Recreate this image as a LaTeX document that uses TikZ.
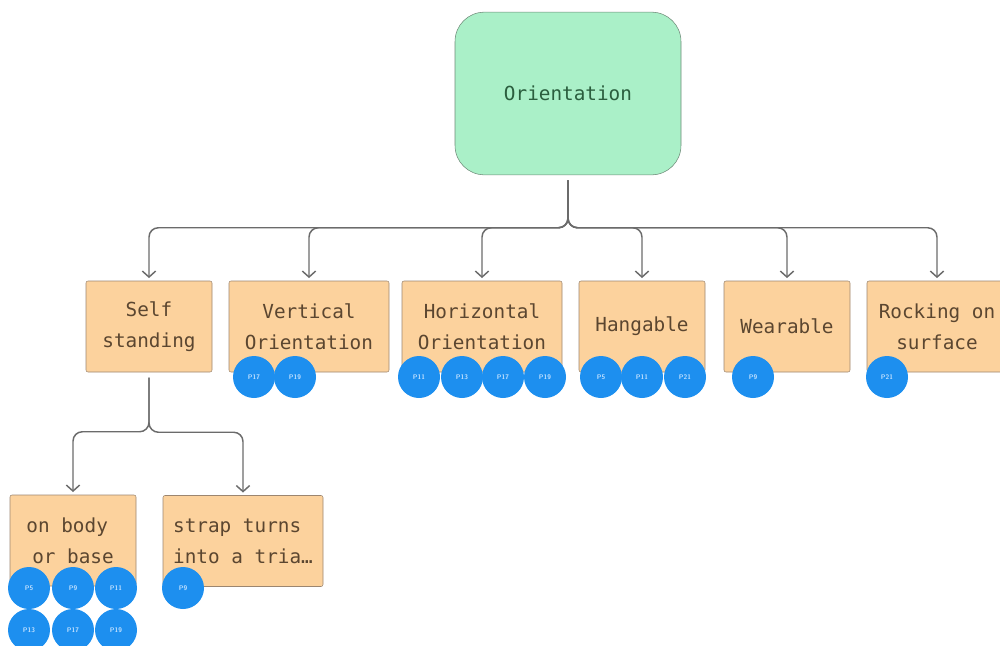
\documentclass[tikz,border=0pt]{standalone}
\usepackage{fontspec}
\setmonofont{DejaVu Sans Mono}
\usetikzlibrary{arrows.meta,calc}

\definecolor{rootfill}{HTML}{AAF0C8}
\definecolor{rootline}{HTML}{6E8A78}
\definecolor{roottext}{HTML}{2B5E3E}
\definecolor{leaffill}{HTML}{FCD29D}
\definecolor{leafline}{HTML}{9C8670}
\definecolor{leaftext}{HTML}{5B4630}
\definecolor{linkgray}{HTML}{6B6B6B}
\definecolor{badgeblue}{HTML}{1D8FEF}
\definecolor{badgetext}{HTML}{C4E2FF}

\begin{document}
\begin{tikzpicture}[x=0.75pt,y=-0.75pt,
  topic/.style={draw=rootline,fill=rootfill,rounded corners=22pt,minimum width=169.5pt,minimum height=122pt,inner sep=0pt,text=roottext,font=\ttfamily\fontsize{14.5}{23}\selectfont},
  leaf/.style={draw=leafline,fill=leaffill,rounded corners=1.5pt,minimum height=68.25pt,inner sep=0pt,align=center,text=leaftext,font=\ttfamily\fontsize{14.5}{23.25}\selectfont},
  link/.style={draw=linkgray,line width=1.1pt,rounded corners=7pt,-{Straight Barb[length=4.5pt,width=10pt]},shorten <=4pt,shorten >=2pt},
  badge/.style={circle,fill=badgeblue,minimum size=31.5pt,inner sep=0pt,text=badgetext,font=\sffamily\bfseries\fontsize{5}{5}\selectfont}]
\useasboundingbox (0,0) rectangle (1000,646);

% top of the tree
\node[topic] (root) at (568,93.5) {Orientation};

% first level
\node[leaf,minimum width=94.5pt] (self) at (149,326.5) {Self\\standing};
\node[leaf,minimum width=120pt] (vert) at (309,326.5) {Vertical\\Orientation};
\node[leaf,minimum width=120pt] (horiz) at (482,326.5) {Horizontal\\Orientation};
\node[leaf,minimum width=94.5pt] (hang) at (642,326.5) {Hangable};
\node[leaf,minimum width=94.5pt] (wear) at (787,326.5) {Wearable};
\node[leaf,minimum width=105pt] (rock) at (937,326.5) {Rocking on\\surface};

% second level under self standing
\node[leaf,minimum width=94.5pt] (body) at (73,540.5) {on body\hphantom{x}\\or base};
\node[leaf,minimum width=120pt,align=left] (strap) at (243,541) {strap turns\\into a tria…};

\foreach \c in {self,vert,horiz,hang,wear,rock}
  \draw[link] (root.south) |- ($(\c.north)+(0,-53)$) -- (\c.north);
\foreach \c in {body,strap}
  \draw[link] (self.south) |- ($(\c.north)+(0,-63)$) -- (\c.north);

% page tags
\foreach \n/\x/\y/\t in {v1/254/377/P17, v2/295/377/P19,
    h1/419/377/P11, h2/462/377/P13, h3/503/377/P17, h4/545/377/P19,
    g1/601/377/P5, g2/642/377/P11, g3/685/377/P21,
    w1/753/377/P9, r1/887/377/P21,
    b1/29/588/P5, b2/73/588/P9, b3/116/588/P11,
    b4/29/630/P13, b5/73/630/P17, b6/116/630/P19,
    s1/183/588/P9}
  \node[badge] (\n) at (\x,\y) {\t};
\end{tikzpicture}
\end{document}
